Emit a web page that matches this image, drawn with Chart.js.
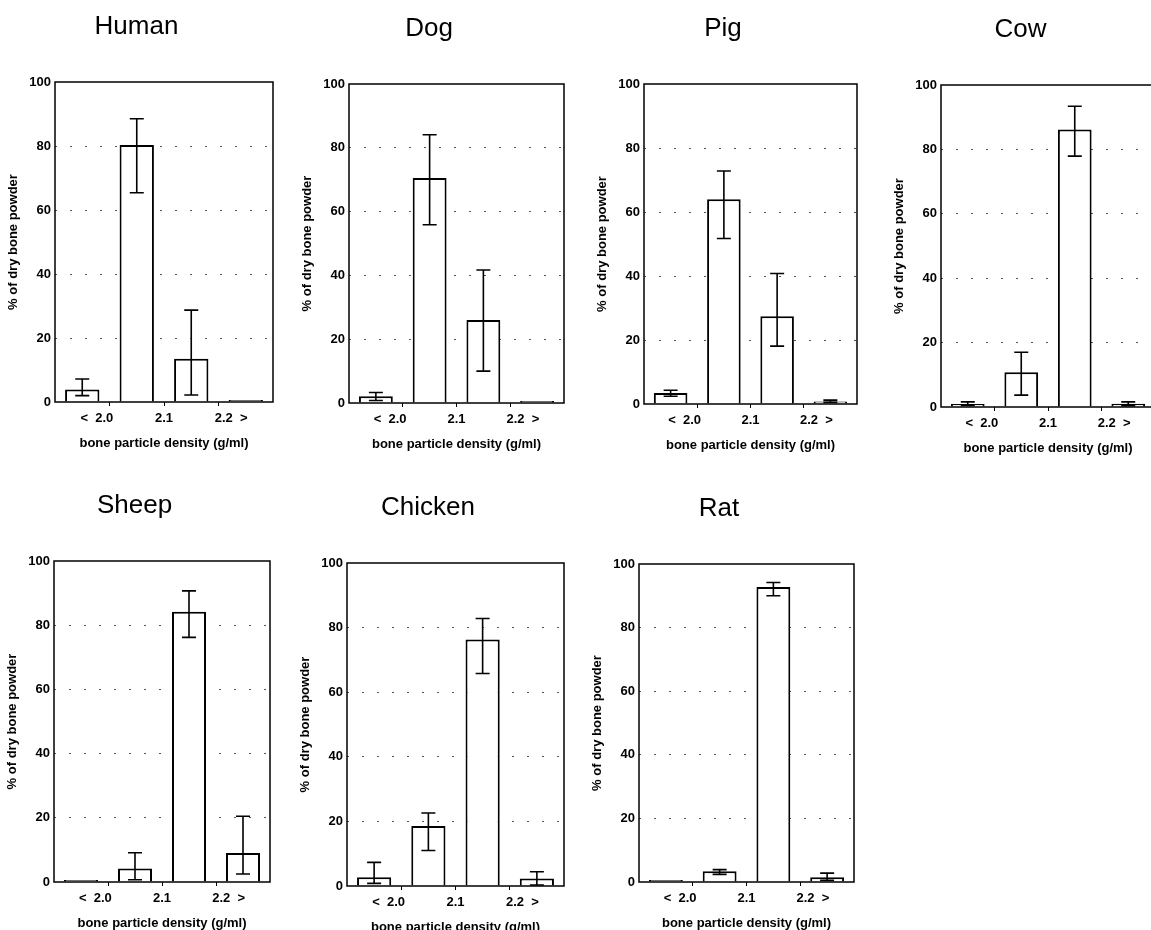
<!DOCTYPE html>
<html>
<head>
<meta charset="utf-8">
<title>Bone particle density by species</title>
<script src="https://cdn.jsdelivr.net/npm/chart.js@4"></script>
<style>
  html, body { margin: 0; padding: 0; background: #fff; }
  body { width: 1151px; height: 930px; position: relative; overflow: hidden; }
  canvas { position: absolute; }
</style>
</head>
<body>
<script>
// density bins (g/ml): bar centres and the bin edges that carry labels
const binCenters = [1.95, 2.05, 2.15, 2.25];
const tickValues = [2.0, 2.1, 2.2];
const tickLabels = ['<  2.0', '2.1', '2.2  >'];
const yTicks = [0, 20, 40, 60, 80, 100];

// % of dry bone powder, with error bar ends (null = no bar drawn)
const humanMean = [3.9, 80.3, 13.5, 0.3];
const humanLo   = [2.0, 65.4, 2.2, null];
const humanHi   = [7.2, 88.5, 28.7, null];

const dogMean = [2.1, 70.5, 26.0, 0.3];
const dogLo   = [0.8, 55.9, 10.0, null];
const dogHi   = [3.3, 84.1, 41.7, null];

const pigMean = [3.4, 64.0, 27.4, 0.8];
const pigLo   = [2.4, 51.7, 18.1, 0.5];
const pigHi   = [4.3, 72.8, 40.8, 1.2];

const cowMean = [0.9, 10.8, 86.2, 1.0];
const cowLo   = [0.5, 3.7, 77.9, 0.4];
const cowHi   = [1.6, 17.0, 93.4, 1.6];

const sheepMean = [0.2, 4.2, 84.2, 9.0];
const sheepLo   = [null, 0.7, 76.2, 2.5];
const sheepHi   = [null, 9.1, 90.7, 20.5];

const chickenMean = [2.7, 18.6, 76.3, 2.3];
const chickenLo   = [0.8, 11.0, 65.8, 0.3];
const chickenHi   = [7.3, 22.6, 82.8, 4.4];

const ratMean = [0.3, 3.4, 92.8, 1.5];
const ratLo   = [null, 2.4, 90.0, 0.5];
const ratHi   = [null, 3.9, 94.2, 2.8];

// plot area of each panel on the page: left, top, right, bottom
const panels = [
    { name: 'Human',   mean: humanMean,   lo: humanLo,   hi: humanHi,   area: [55, 82, 273, 402] },
    { name: 'Dog',     mean: dogMean,     lo: dogLo,     hi: dogHi,     area: [349, 84, 564, 403] },
    { name: 'Pig',     mean: pigMean,     lo: pigLo,     hi: pigHi,     area: [644, 84, 857, 404] },
    { name: 'Cow',     mean: cowMean,     lo: cowLo,     hi: cowHi,     area: [941, 85, 1155, 407] },
    { name: 'Sheep',   mean: sheepMean,   lo: sheepLo,   hi: sheepHi,   area: [54, 561, 270, 882] },
    { name: 'Chicken', mean: chickenMean, lo: chickenLo, hi: chickenHi, area: [347, 563, 564, 886] },
    { name: 'Rat',     mean: ratMean,     lo: ratLo,     hi: ratHi,     area: [639, 564, 854, 882] }
];

Chart.defaults.font.family = "'Liberation Sans', Arial, Helvetica, sans-serif";
Chart.defaults.color = '#000';

const yAxisWidth = 55;
const xAxisHeight = 55;
const titleSize = 26;

const frame = {
    id: 'frame',
    afterDatasetsDraw(chart) {
        const { ctx, chartArea: a } = chart;
        ctx.save();
        ctx.strokeStyle = '#000';
        ctx.lineWidth = 1.5;
        ctx.strokeRect(a.left, a.top, a.right - a.left, a.bottom - a.top);
        ctx.restore();
    }
};

function errorBars(lo, hi) {
    return {
        id: 'errorBars',
        afterDatasetsDraw(chart) {
            const ctx = chart.ctx;
            const y = chart.scales.y;
            ctx.save();
            ctx.strokeStyle = '#000';
            ctx.lineWidth = 1.6;
            chart.getDatasetMeta(0).data.forEach((bar, i) => {
                if (lo[i] == null || hi[i] == null) return;
                const y1 = y.getPixelForValue(lo[i]);
                const y2 = y.getPixelForValue(hi[i]);
                ctx.beginPath();
                ctx.moveTo(bar.x, y1); ctx.lineTo(bar.x, y2);
                ctx.moveTo(bar.x - 7, y1); ctx.lineTo(bar.x + 7, y1);
                ctx.moveTo(bar.x - 7, y2); ctx.lineTo(bar.x + 7, y2);
                ctx.stroke();
            });
            ctx.restore();
        }
    };
}

// push the "<" and ">" outside so the number sits on its tick
function shiftLabel(i) {
    if (i === 0) return tickLabels[i] + ' '.repeat(7);
    if (i === tickLabels.length - 1) return ' '.repeat(7) + tickLabels[i];
    return tickLabels[i];
}

panels.forEach((p) => {
    const [L, T, R, B] = p.area;
    const top = Math.max(0, Math.round(T - 82));
    const titleLine = titleSize * 1.2;
    const titlePadTop = 11;
    const titlePadBottom = T - top - titlePadTop - titleLine;

    const canvas = document.createElement('canvas');
    canvas.width = R - L + yAxisWidth + 6;
    canvas.height = B - top + xAxisHeight;
    canvas.style.left = (L - yAxisWidth) + 'px';
    canvas.style.top = top + 'px';
    document.body.appendChild(canvas);

    new Chart(canvas, {
        type: 'bar',
        data: {
            datasets: [{
                data: binCenters.map((x, i) => ({ x: x, y: p.mean[i] })),
                backgroundColor: '#fff',
                borderColor: '#000',
                borderWidth: 2,
                minBarLength: 2,
                barPercentage: 0.63,
                categoryPercentage: 1
            }]
        },
        options: {
            responsive: false,
            animation: false,
            devicePixelRatio: 1,
            layout: { padding: { left: 0, right: 6, top: 0, bottom: 0 } },
            plugins: {
                legend: { display: false },
                tooltip: { enabled: false },
                title: {
                    display: true,
                    text: p.name,
                    color: '#000',
                    font: { size: titleSize, weight: 'normal' },
                    padding: { top: titlePadTop, bottom: titlePadBottom }
                }
            },
            scales: {
                x: {
                    type: 'linear',
                    min: 1.9,
                    max: 2.3,
                    offset: false,
                    afterBuildTicks: (s) => { s.ticks = tickValues.map(v => ({ value: v })); },
                    afterFit: (s) => { s.height = xAxisHeight; },
                    ticks: {
                        callback: (v, i) => shiftLabel(i),
                        font: { size: 13, weight: 'bold' },
                        color: '#000',
                        padding: 5,
                        maxRotation: 0,
                        autoSkip: false
                    },
                    grid: { drawOnChartArea: false, drawTicks: true, tickLength: 4, tickColor: '#000', offset: false },
                    border: { display: false },
                    title: {
                        display: true,
                        text: 'bone particle density (g/ml)',
                        color: '#000',
                        font: { size: 13, weight: 'bold' },
                        padding: { top: 0, bottom: 6 }
                    }
                },
                y: {
                    min: 0,
                    max: 100,
                    afterBuildTicks: (s) => { s.ticks = yTicks.map(v => ({ value: v })); },
                    afterFit: (s) => { s.width = yAxisWidth; },
                    ticks: { font: { size: 13, weight: 'bold' }, color: '#000', padding: 4 },
                    grid: {
                        drawTicks: false,
                        lineWidth: 1,
                        color: (c) => (c.tick && (c.tick.value === 0 || c.tick.value === 100)) ? 'rgba(0,0,0,0)' : '#555'
                    },
                    border: { display: false, dash: [2, 13] },
                    title: {
                        display: true,
                        text: '% of dry bone powder',
                        color: '#000',
                        font: { size: 13, weight: 'bold' },
                        padding: { top: 6, bottom: 0 }
                    }
                }
            }
        },
        plugins: [frame, errorBars(p.lo, p.hi)]
    });
});
</script>
</body>
</html>
